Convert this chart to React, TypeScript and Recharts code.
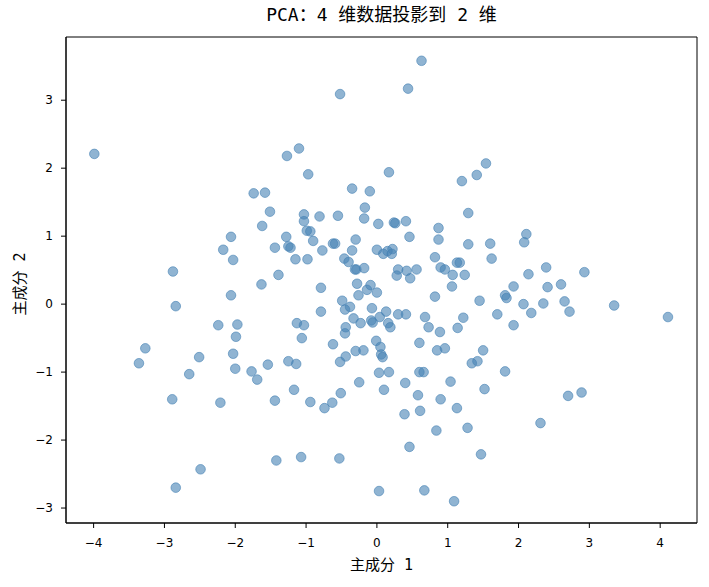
import { ReferenceArea, Scatter, ScatterChart, XAxis, YAxis } from 'recharts'

// 主成分 1 (x) and 主成分 2 (y), same order
const pc1 = [
  -3.99, -1.74, -1.58, -1.51, -1.62, -2.06, -2.17, -2.03, -1.44, -2.88, -1.39,
  0.63, -0.52, 0.44, -1.27, -1.1, -0.97, 0.17, -0.35, -0.1, 1.54, 1.41, 1.2,
  1.29, -0.17, -0.18, -1.03, -1.03, -0.81, -0.55, -0.99, -0.94, -0.9, -1.28,
  -1.25, -1.22, -1.15, -0.98, -0.77, -0.62, -0.59, -0.3, -0.35, 0.02, 0.24,
  0.26, 0.41, 0.46, 0.87, 0.87, 1.29, 1.6, 0.0, 0.09, 0.15, 0.22, 0.21, -0.46,
  -0.4, -0.31, -0.29, -0.18, 0.3, 0.42, 0.56, 0.28, 0.47, 0.82, 0.9, 0.96, 1.13,
  1.17, 1.07, 1.24, 1.62, 2.11, 2.08, 2.14, 2.39, 2.93,
  -1.63, -2.06, -2.84, -2.24, -1.97, -1.99, -2.03, -2.0, -1.77, -1.69, -1.54,
  -3.27, -3.36, -2.51, -2.65, -2.89, -2.21, -1.44, -1.42, -2.49, -2.84, -0.79,
  -0.79, -1.13, -1.03, -1.06, -1.25, -1.14, -1.17, -0.94, -0.74, -0.63, -0.51,
  -0.62, -0.52, -0.44, -0.3, -0.19, -0.25, -0.45, -0.44, -0.33, -0.23, -0.49,
  -0.45, -0.38, -0.28, -0.26, -0.14, -0.09, 0.0, -0.07, -0.08, -0.06, 0.04,
  0.13, 0.16, 0.19, 0.3, 0.41, -0.01, 0.05, 0.06, 0.08, 0.03, 0.17, 0.1, 0.4,
  0.58, 0.61, 0.39, 0.46, 0.82, 1.06, 1.45, 0.68, 0.73, 0.89, 1.22, 1.14, 0.6,
  0.85, 0.96, 1.5, 1.34, 1.42, 0.6, 0.66, 1.04, 1.52, 0.9, 1.13, 0.84, 1.28,
  1.47, -1.07, -0.53, 0.03, 0.67, 1.09, 1.93, 2.41, 2.6, 1.81, 1.83, 2.07,
  2.35, 2.65, 2.72, 3.35, 4.11, 1.7, 2.18, 1.93, 1.81, 2.7, 2.89, 2.31,
]
const pc2 = [
  2.21, 1.63, 1.64, 1.36, 1.15, 0.99, 0.8, 0.65, 0.83, 0.48, 0.43,
  3.58, 3.09, 3.17, 2.18, 2.29, 1.91, 1.94, 1.7, 1.66, 2.07, 1.9, 1.81,
  1.34, 1.42, 1.26, 1.32, 1.22, 1.29, 1.3, 1.08, 1.07, 0.93, 0.99,
  0.85, 0.83, 0.66, 0.66, 0.79, 0.89, 0.89, 0.95, 0.79, 1.18, 1.2,
  1.19, 1.22, 0.99, 1.12, 0.95, 0.88, 0.89, 0.8, 0.74, 0.78, 0.81, 0.74, 0.67,
  0.62, 0.51, 0.51, 0.53, 0.51, 0.49, 0.51, 0.42, 0.38, 0.69, 0.54, 0.51, 0.61,
  0.61, 0.43, 0.43, 0.67, 1.03, 0.91, 0.44, 0.54, 0.47,
  0.29, 0.13, -0.03, -0.31, -0.3, -0.48, -0.73, -0.95, -0.99, -1.11, -0.89,
  -0.65, -0.87, -0.78, -1.03, -1.4, -1.45, -1.42, -2.3, -2.43, -2.7, 0.24,
  -0.11, -0.28, -0.31, -0.5, -0.84, -0.88, -1.26, -1.44, -1.53, -1.45, -1.31,
  -0.59, -0.85, -0.77, -0.69, -0.68, -1.15, -0.43, -0.34, -0.21, -0.28, 0.05,
  -0.08, -0.04, 0.3, 0.13, 0.21, 0.28, 0.17, -0.06, -0.24, -0.27, -0.19,
  -0.11, -0.28, -0.34, -0.15, -0.15, -0.54, -0.63, -0.74, -0.78, -1.01, -1.0, -1.26, -1.16,
  -1.34, -1.57, -1.62, -2.1, 0.11, 0.26, 0.05, -0.19, -0.34, -0.41, -0.2, -0.35, -0.57,
  -0.68, -0.65, -0.68, -0.87, -0.84, -1.0, -1.0, -1.14, -1.25, -1.4, -1.53, -1.86, -1.82,
  -2.21, -2.25, -2.27, -2.75, -2.74, -2.9, 0.26, 0.25, 0.29, 0.13, 0.09, 0.0,
  0.01, 0.04, -0.11, -0.02, -0.19, -0.15, -0.13, -0.31, -0.99, -1.35, -1.3, -1.75,
]

const xTicks = [-4, -3, -2, -1, 0, 1, 2, 3, 4]
const yTicks = [-3, -2, -1, 0, 1, 2, 3]

const points = pc1.map((x, i) => ({ x, y: pc2[i] }))

const X_DOMAIN: [number, number] = [-4.39, 4.52]
const Y_DOMAIN: [number, number] = [-3.22, 3.93]
const DOT = '#4682b4'
// half-width latin + CJK, close to SimHei's look
const CJK_FONT = '"DejaVu Sans Mono", "Noto Sans CJK SC", sans-serif'
const TICK_FONT = '"DejaVu Sans", sans-serif'

const fmt = (v: number) => (v < 0 ? '\u2212' + Math.abs(v) : String(v))

// eslint-disable-next-line @typescript-eslint/no-explicit-any
const Dot = (props: any) => (
  <circle
    cx={props.cx}
    cy={props.cy}
    r={4.8}
    fill={DOT}
    fillOpacity={0.6}
    stroke={DOT}
    strokeOpacity={0.6}
    strokeWidth={1}
  />
)

export default function App() {
  const tick = { fontSize: 12, fill: '#000', fontFamily: TICK_FONT }
  return (
    <div style={{ position: 'absolute', left: 0, top: 0, width: 709, height: 587, fontFamily: CJK_FONT }}>
      <ScatterChart width={709} height={587} margin={{ top: 37, right: 12, bottom: 34, left: 16 }}>
        <XAxis
          type="number"
          dataKey="x"
          domain={X_DOMAIN}
          ticks={xTicks}
          allowDataOverflow
          height={30}
          tick={tick}
          tickFormatter={fmt}
          tickSize={5}
          tickMargin={10}
          axisLine={{ stroke: '#000' }}
          tickLine={{ stroke: '#000' }}
        />
        <YAxis
          type="number"
          dataKey="y"
          domain={Y_DOMAIN}
          ticks={yTicks}
          allowDataOverflow
          width={50}
          tick={tick}
          tickFormatter={fmt}
          tickSize={5}
          tickMargin={8}
          axisLine={{ stroke: '#000' }}
          tickLine={{ stroke: '#000' }}
        />
        <ReferenceArea
          x1={X_DOMAIN[0]}
          x2={X_DOMAIN[1]}
          y1={Y_DOMAIN[0]}
          y2={Y_DOMAIN[1]}
          fill="none"
          stroke="#000"
          strokeWidth={1}
          ifOverflow="visible"
        />
        <Scatter data={points} shape={Dot} isAnimationActive={false} />
      </ScatterChart>
      <div
        style={{
          position: 'absolute',
          left: 66,
          width: 631,
          top: 3,
          textAlign: 'center',
          fontSize: 18,
          lineHeight: '24px',
        }}
      >
        PCA：4 维数据投影到 2 维
      </div>
      <div
        style={{
          position: 'absolute',
          left: 66,
          width: 631,
          top: 555,
          textAlign: 'center',
          fontSize: 15,
          lineHeight: '20px',
        }}
      >
        主成分 1
      </div>
      <div
        style={{
          position: 'absolute',
          left: 20,
          top: 284,
          transform: 'translate(-50%, -50%) rotate(-90deg)',
          whiteSpace: 'nowrap',
          fontSize: 15,
          lineHeight: '20px',
        }}
      >
        主成分 2
      </div>
    </div>
  )
}
